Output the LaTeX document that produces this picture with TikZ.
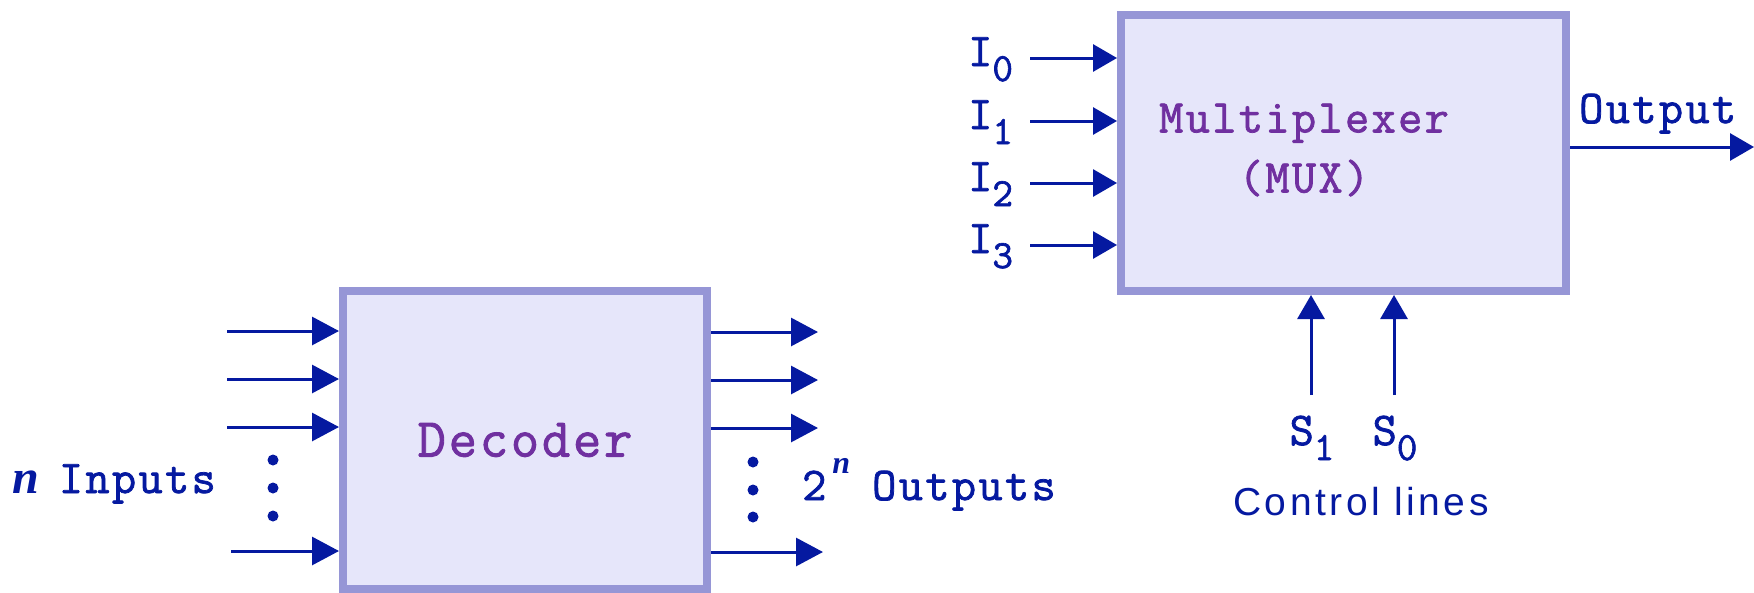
\documentclass[tikz,border=0pt]{standalone}
\usepackage{fontspec}
\setmainfont{Latin Modern Mono}[LetterSpace=5, FakeBold=1.6]
\newfontfamily\sansf{Liberation Sans}
\newfontfamily\nfont{Liberation Serif}
\usetikzlibrary{arrows.meta,positioning}
\definecolor{lineblue}{RGB}{5,25,160}
\definecolor{boxfill}{RGB}{230,230,250}
\definecolor{boxedge}{RGB}{150,150,214}
\definecolor{txtpurple}{RGB}{112,48,160}
\newcommand{\lowidx}[1]{\raisebox{-15pt}{\fontsize{40}{40}\selectfont #1}}
\newcommand{\varn}[1]{{\nfont\bfseries\itshape\fontsize{#1}{#1}\selectfont n}}

\begin{document}
\begin{tikzpicture}[
  x=1pt, y=-1pt,
  font=\fontsize{47}{60}\selectfont,
  blk/.style={draw=boxedge, fill=boxfill, line width=8pt, inner sep=0pt},
  arr/.style={draw=lineblue, line width=3pt, -{Triangle[length=24pt,width=27pt]}},
  bigarr/.style={arr, -{Triangle[length=27pt,width=28pt]}},
  lbl/.style={text=lineblue, inner sep=0pt, anchor=base west},
  dot/.style={circle, fill=lineblue, inner sep=0pt, minimum size=11pt}
]
\useasboundingbox (0,0) rectangle (1754,592);
% decoder
\node[blk, minimum width=364pt, minimum height=298pt, text=txtpurple,
  font=\fontsize{55}{60}\selectfont] (dec) at (525,440) {Decoder};
\foreach \yy [count=\k] in {331,379,427} {
  \coordinate (din\k) at (227,\yy);
  \draw[bigarr] (din\k) -- (din\k -| dec.west);
}
\coordinate (din4) at (231,551);
\draw[bigarr] (din4) -- (din4 -| dec.west);
\foreach \yy [count=\k] in {332,380,428} {
  \coordinate (dout\k) at (818,\yy);
  \draw[bigarr] (dout\k -| dec.east) -- (dout\k);
}
\coordinate (dout4) at (823,552);
\draw[bigarr] (dout4 -| dec.east) -- (dout4);
\foreach \yy [count=\k] in {460,488,516} \node[dot] (ldot\k) at (273,\yy) {};
\foreach \yy [count=\k] in {462,490,517} \node[dot] (rdot\k) at (753,\yy) {};
\node[lbl] (nin) at (12,493) {\varn{48}\hspace{20pt}Inputs};
\node[lbl] (nout) at (802,500) {2\raisebox{27pt}{\hspace{6pt}\varn{32}}\hspace{22pt}Outputs};
% multiplexer
\node[blk, minimum width=445pt, minimum height=276pt] (mux) at (1343.5,153) {};
\node[text=txtpurple, align=center, inner sep=0pt] (muxname) at (1304,150) {Multiplexer\\(MUX)};
\foreach \yy [count=\k from 0] in {58,121,183,245} {
  \coordinate (min\k) at (1030,\yy);
  \draw[arr] (min\k) -- (min\k -| mux.west);
  \node[lbl] (ilbl\k) at (968,{\yy+8}) {I\lowidx{\k}};
}
\coordinate (mout) at (1754,147);
\draw[arr] (mux.east |- mout) -- (mout);
\node[lbl] (outlbl) at (1579,123) {Output};
% select lines
\coordinate (sone) at (1311,395);
\coordinate (szero) at (1394,395);
\draw[arr] (sone) -- (sone |- mux.south);
\draw[arr] (szero) -- (szero |- mux.south);
\node[lbl, anchor=base] (slbl1) at (1312,445) {S\lowidx{1}};
\node[lbl, anchor=base] (slbl0) at (1395,445) {S\lowidx{0}};
\node[lbl, anchor=base, font=\sansf\fontsize{39}{48}\selectfont\addfontfeature{LetterSpace=9}] (ctl) at (1361,515) {Control lines};
\end{tikzpicture}
\end{document}
